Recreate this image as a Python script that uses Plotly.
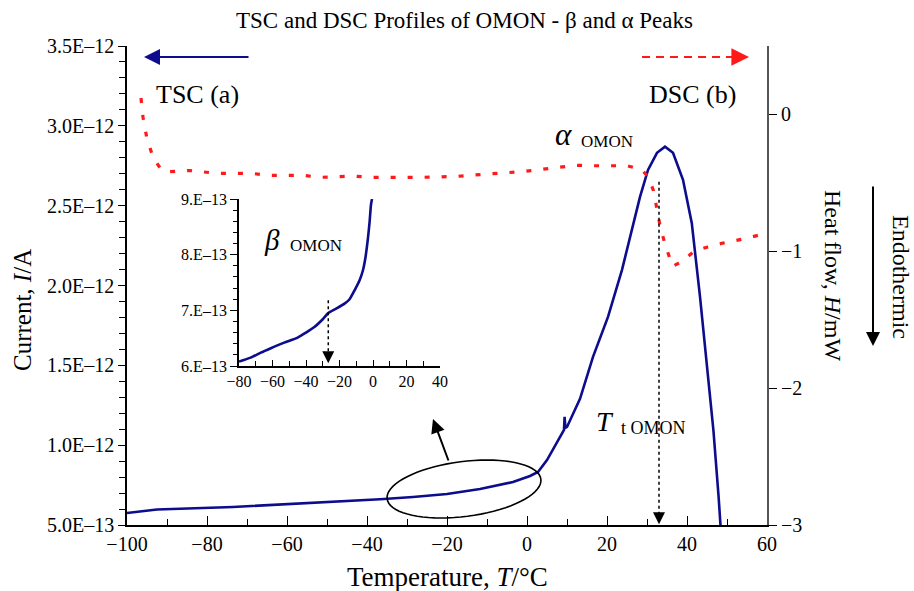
import numpy as np
import plotly.graph_objects as go

# ---------------- data ----------------
tsc_T = [-100, -92.5, -73.5, -53.5, -36.75, -28.5, -20, -11.75, -3.5, 0.75, 2.75, 5, 8.25,
         9.25, 9.4, 9.6, 10, 13.25, 16.5, 20.25, 23.75, 26.25, 28.25, 30.25, 32.5, 34.5,
         36.5, 39, 41.2, 43.25, 44.9, 46.6, 47.9, 48.4]
tsc_I = [5.75e-13, 5.97e-13, 6.13e-13, 6.38e-13, 6.61e-13, 6.75e-13, 6.94e-13, 7.26e-13,
         7.69e-13, 8.07e-13, 8.32e-13, 9.07e-13, 10.51e-13, 10.95e-13, 11.77e-13, 11.08e-13,
         11.14e-13, 12.9e-13, 15.53e-13, 18.03e-13, 20.98e-13, 23.48e-13, 25.55e-13,
         27.24e-13, 28.31e-13, 28.69e-13, 28.31e-13, 26.62e-13, 23.9e-13, 19.3e-13,
         15.13e-13, 10.95e-13, 6.77e-13, 4.9e-13]

dsc_T = [-96.5, -96.0, -95.0, -93.4, -91.5, -90.5, -84.25, -77.6, -69.25, -64.25, -56,
         -51.75, -43.5, -39.25, -26.75, -17.6, -13.4, -5, -0.5, 4, 8.25, 12.4, 16.6, 25,
         28.7, 30.3, 31.6, 32.4, 33.4, 34.75, 36.4, 39, 41.75, 45, 49, 54, 56.6, 60.3]
dsc_H = [0.12, -0.02, -0.18, -0.32, -0.40, -0.42, -0.41, -0.43, -0.43, -0.445, -0.445,
         -0.46, -0.45, -0.46, -0.46, -0.453, -0.443, -0.428, -0.416, -0.40, -0.385, -0.372,
         -0.375, -0.375, -0.404, -0.457, -0.555, -0.69, -0.834, -0.97, -1.11, -1.07, -1.0,
         -0.97, -0.94, -0.91, -0.89, -0.866]

inset_T = [-80, -78, -73, -67, -61, -53, -45, -40, -35, -30, -26.7, -22, -17, -14, -11,
           -8, -6, -4.5, -3, -2, -1.2, -0.6]
inset_I = [6.08e-13, 6.1e-13, 6.15e-13, 6.24e-13, 6.32e-13, 6.42e-13, 6.51e-13, 6.6e-13,
           6.7e-13, 6.84e-13, 6.95e-13, 7.03e-13, 7.12e-13, 7.2e-13, 7.36e-13, 7.54e-13,
           7.72e-13, 7.95e-13, 8.3e-13, 8.6e-13, 8.9e-13, 9.0e-13]

y_ticks = [5e-13, 1e-12, 1.5e-12, 2e-12, 2.5e-12, 3e-12, 3.5e-12]
y_ticktext = ["5.0E\u201313", "1.0E\u201312", "1.5E\u201312", "2.0E\u201312",
              "2.5E\u201312", "3.0E\u201312", "3.5E\u201312"]
inset_yticks = [6e-13, 7e-13, 8e-13, 9e-13]
inset_yticktext = ["6.E\u201313", "7.E\u201313", "8.E\u201313", "9.E\u201313"]

T_transition = 33        # alpha transition marker
T_beta = -26.7           # beta marker

FONT = "Liberation Serif"
NAVY = "#0c0c8c"
RED = "#ff1a1a"

# plot area in pixels (for placing decorations)
W, H = 914, 591
L, R, TOP, B = 127, 147, 46, 66
PW, PH = W - L - R, H - TOP - B


def px2paper(px, py):
    return (px - L) / PW, (H - B - py) / PH


fig = go.Figure()

fig.add_trace(go.Scatter(x=tsc_T, y=tsc_I, mode="lines", xaxis="x", yaxis="y",
                         line=dict(color=NAVY, width=2.6), showlegend=False))
fig.add_trace(go.Scatter(x=dsc_T, y=dsc_H, mode="lines", xaxis="x", yaxis="y2",
                         line=dict(color=RED, width=3.2, dash="5px,12px"), showlegend=False))
fig.add_trace(go.Scatter(x=inset_T, y=inset_I, mode="lines", xaxis="x3", yaxis="y3",
                         line=dict(color=NAVY, width=2.6, shape="spline", smoothing=0.6),
                         showlegend=False))

# inset domain
ix0, iy0 = px2paper(239, 366)
ix1, iy1 = px2paper(440, 199)

fig.update_layout(
    width=W, height=H,
    margin=dict(l=L, r=R, t=TOP, b=B),
    paper_bgcolor="white", plot_bgcolor="white",
    font=dict(family=FONT, color="black", size=20),
    xaxis=dict(range=[-100, 60], domain=[0, 1], tickmode="linear", tick0=-100, dtick=20,
               ticks="inside", ticklen=9, tickwidth=1.3, tickcolor="black",
               showline=True, linecolor="black", linewidth=1.6, showgrid=False, zeroline=False,
               tickfont=dict(size=20, family=FONT),
               minor=dict(tickmode="linear", tick0=-100, dtick=10, ticks="inside", ticklen=6,
                          tickcolor="black", tickwidth=1.2)),
    yaxis=dict(range=[5e-13, 3.5e-12], domain=[0, 1], tickmode="array", tickvals=y_ticks,
               ticktext=y_ticktext, ticks="outside", ticklen=7, tickwidth=1.3,
               tickcolor="black", showline=True, linecolor="black", linewidth=1.6,
               showgrid=False, zeroline=False, tickfont=dict(size=20, family=FONT),
               minor=dict(tickmode="linear", tick0=5e-13, dtick=1e-13, ticks="outside",
                          ticklen=6, tickcolor="black", tickwidth=1.2)),
    # inner halves of the crossing major ticks on the left axis
    yaxis4=dict(range=[5e-13, 3.5e-12], overlaying="y", side="left", anchor="x",
                tickmode="array", tickvals=y_ticks, ticks="inside", ticklen=7,
                tickwidth=1.3, tickcolor="black", showticklabels=False, showline=False,
                showgrid=False, zeroline=False),
    yaxis2=dict(range=[-3, 0.5], overlaying="y", side="right", anchor="x",
                tickmode="linear", tick0=0, dtick=1, ticks="outside", ticklen=8,
                tickwidth=1.3, tickcolor="black", showline=True, linecolor="#555555",
                linewidth=2, showgrid=False, zeroline=False,
                tickfont=dict(size=20, family=FONT)),
    # inner halves of the crossing ticks on the right axis
    yaxis5=dict(range=[-3, 0.5], overlaying="y", side="right", anchor="x",
                tickmode="linear", tick0=0, dtick=1, ticks="inside", ticklen=8,
                tickwidth=1.3, tickcolor="black", showticklabels=False, showline=False,
                showgrid=False, zeroline=False),
    xaxis3=dict(range=[-80, 40], domain=[ix0, ix1], anchor="y3", tickmode="linear",
                tick0=-80, dtick=20, ticks="inside", ticklen=6, tickwidth=1.2,
                tickcolor="black", showline=True, linecolor="black", linewidth=1.8,
                showgrid=False, zeroline=False, tickfont=dict(size=16, family=FONT),
                minor=dict(tickmode="linear", tick0=-80, dtick=10, ticks="inside",
                           ticklen=5, tickcolor="black")),
    yaxis3=dict(range=[6e-13, 9e-13], domain=[iy0, iy1], anchor="x3", tickmode="array",
                tickvals=inset_yticks, ticktext=inset_yticktext, ticks="outside",
                ticklen=7, tickwidth=1.2, tickcolor="black", showline=True,
                linecolor="black", linewidth=1.8, showgrid=False, zeroline=False,
                tickfont=dict(size=16, family=FONT),
                minor=dict(tickmode="linear", tick0=6e-13, dtick=2e-14, ticks="outside",
                           ticklen=4, tickcolor="black")),
)

# ---------------- shapes ----------------
shapes = []
# tilted ellipse around the beta region
cx, cy, a, b, th = 464, 489, 77.5, 27.5, np.deg2rad(7.3)
t = np.linspace(0, 2 * np.pi, 73)
ex = cx + a * np.cos(t) * np.cos(th) - b * np.sin(t) * np.sin(th)
ey = cy - (a * np.cos(t) * np.sin(th) + b * np.sin(t) * np.cos(th))
pts = [px2paper(u, v) for u, v in zip(ex, ey)]
path = "M " + " L ".join(f"{p[0]:.5f},{p[1]:.5f}" for p in pts) + " Z"
shapes.append(dict(type="path", path=path, xref="paper", yref="paper",
                   line=dict(color="black", width=1.6)))
# dotted transition line (main)
shapes.append(dict(type="line", xref="x", yref="y", x0=T_transition, x1=T_transition,
                   y0=2.65e-12, y1=5.2e-13, line=dict(color="black", width=1.5, dash="dot")))
# dotted beta line (inset)
shapes.append(dict(type="line", xref="x3", yref="y3", x0=T_beta, x1=T_beta,
                   y0=7.18e-13, y1=6.1e-13, line=dict(color="black", width=1.5, dash="dot")))
# red dashed arrow shaft
rx0, ry = px2paper(642, 57)
rx1, _ = px2paper(736, 57)
shapes.append(dict(type="line", xref="paper", yref="paper", x0=rx0, x1=rx1, y0=ry, y1=ry,
                   line=dict(color=RED, width=2, dash="8px,6px")))
fig.update_layout(shapes=shapes)

# ---------------- annotations ----------------
ann = []


def text(px, py, s, size, angle=0, italic=False):
    x, y = px2paper(px, py)
    if italic:
        s = f"<i>{s}</i>"
    ann.append(dict(x=x, y=y, xref="paper", yref="paper", text=s, showarrow=False,
                    xanchor="center", yanchor="middle", textangle=angle,
                    font=dict(family=FONT, size=size, color="black")))


text(464, 21, "TSC and DSC Profiles of OMON - \u03b2 and \u03b1 Peaks", 23)
text(447, 577, "Temperature, <i>T</i>/\u00b0C", 27)
text(22, 310, "Current, <i>I</i>/A", 25, angle=-90)
text(833, 275, "Heat flow, <i>H</i>/mW", 24, angle=90)
text(901, 277, "Endothermic", 24, angle=90)
text(197, 95, "TSC (a)", 26)
text(692, 95, "DSC (b)", 26)
text(563, 134, "\u03b1", 31, italic=True)
text(607, 141, "OMON", 17)
text(605, 421, "T", 28, italic=True)
text(653, 428, "t OMON", 18)
text(272, 240, "\u03b2", 29, italic=True)
text(316, 245, "OMON", 17)

# blue arrow (TSC -> left axis)
hx, hy = px2paper(144, 57)
ann.append(dict(x=hx, y=hy, xref="paper", yref="paper", ax=106, ay=0, text="",
                showarrow=True, arrowhead=2, arrowsize=1.6, arrowwidth=2, arrowcolor=NAVY))
# red arrow head (DSC -> right axis)
hx, hy = px2paper(749, 57)
ann.append(dict(x=hx, y=hy, xref="paper", yref="paper", ax=-14, ay=0, text="",
                showarrow=True, arrowhead=2, arrowsize=1.6, arrowwidth=2.2, arrowcolor=RED))
# endothermic arrow
hx, hy = px2paper(873, 346)
ann.append(dict(x=hx, y=hy, xref="paper", yref="paper", ax=0, ay=-161, text="",
                showarrow=True, arrowhead=2, arrowsize=1.4, arrowwidth=2, arrowcolor="black"))
# ellipse pointer arrow
hx, hy = px2paper(433, 419)
ann.append(dict(x=hx, y=hy, xref="paper", yref="paper", ax=16, ay=43, text="",
                showarrow=True, arrowhead=2, arrowsize=1.4, arrowwidth=2, arrowcolor="black"))
# dotted-line arrow heads
ann.append(dict(x=T_transition, y=5.05e-13, xref="x", yref="y", ax=0, ay=-12, text="",
                showarrow=True, arrowhead=2, arrowsize=1.6, arrowwidth=1.5, arrowcolor="black"))
ann.append(dict(x=T_beta, y=6.05e-13, xref="x3", yref="y3", ax=0, ay=-12, text="",
                showarrow=True, arrowhead=2, arrowsize=1.6, arrowwidth=1.5, arrowcolor="black"))

fig.update_layout(annotations=ann)

fig.write_html("out.html")
